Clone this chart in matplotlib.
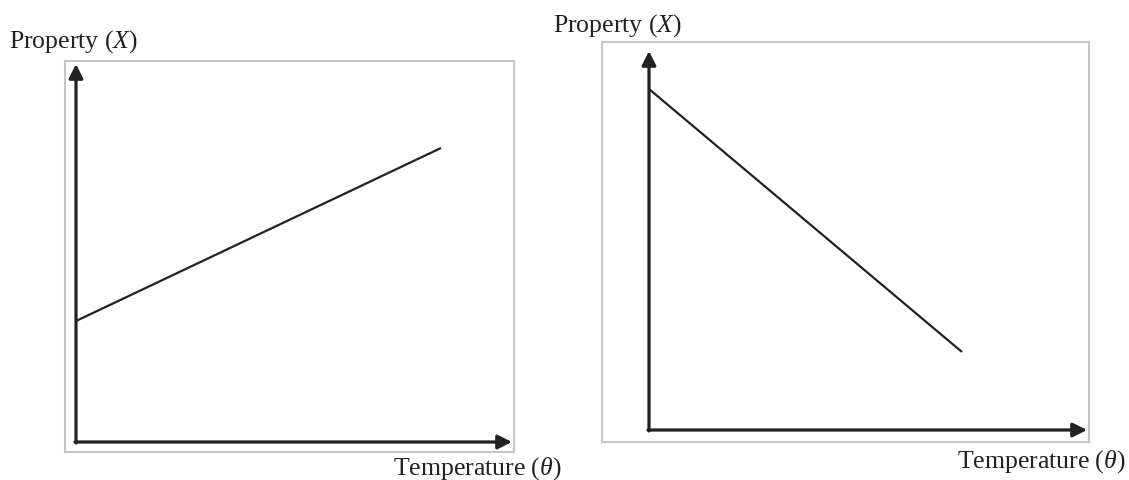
import matplotlib
matplotlib.use("Agg")
import matplotlib.pyplot as plt

plt.rcParams['font.family'] = ['Liberation Serif', 'DejaVu Serif']
plt.rcParams['mathtext.fontset'] = 'custom'
plt.rcParams['mathtext.rm'] = 'Liberation Serif'
plt.rcParams['mathtext.it'] = 'Liberation Serif:italic'

# Data (arbitrary units)
temp_left = [0, 365]
prop_left = [121, 294]
temp_right = [0, 313]
prop_right = [341, 78]

ylabel = "Property ($X$)"
xlabel = "Temperature ($\\theta$)"

W, H = 1129, 481
fig = plt.figure(figsize=(W / 100, H / 100), dpi=100)
fig.patch.set_facecolor('white')

def px_axes(x0, y0, x1, y1):
    return fig.add_axes([x0 / W, 1 - y1 / H, (x1 - x0) / W, (y1 - y0) / H])

axis_col = '#222222'
box_col = '#c6c6c6'

def setup(ax, xlim, ylim, xtip, ytip, xs, ys):
    ax.set_xlim(*xlim)
    ax.set_ylim(*ylim)
    ax.set_xticks([])
    ax.set_yticks([])
    for s in ax.spines.values():
        s.set_color(box_col)
        s.set_linewidth(1.5)
    ax.plot(xs, ys, color=axis_col, lw=1.6, solid_capstyle='butt')
    ap = dict(arrowstyle='-|>', lw=2.3, color=axis_col, mutation_scale=21,
              shrinkA=0, shrinkB=0)
    ax.annotate('', xy=(xtip, 0), xytext=(-1, 0), arrowprops=ap)
    ax.annotate('', xy=(0, ytip), xytext=(0, -1), arrowprops=ap)

# Left panel: box (65,62)-(514,453), origin (76,443)
axL = px_axes(65, 62, 514, 453)
setup(axL, (-11, 438), (-10, 381), 436, 378, temp_left, prop_left)

# Right panel: box (602,43)-(1089,443), origin (649,431)
axR = px_axes(602, 43, 1089, 443)
setup(axR, (-47, 440), (-12, 388), 438, 379, temp_right, prop_right)

fs = 18.5
def ftext(x, y, s):
    fig.text(x / W, 1 - y / H, s, fontsize=fs, color='#222222', va='baseline', ha='left')

ftext(9, 48, ylabel)
ftext(393, 475, xlabel)
ftext(553, 32, ylabel)
ftext(957, 468, xlabel)

fig.savefig('out.png', dpi=100, facecolor='white')
